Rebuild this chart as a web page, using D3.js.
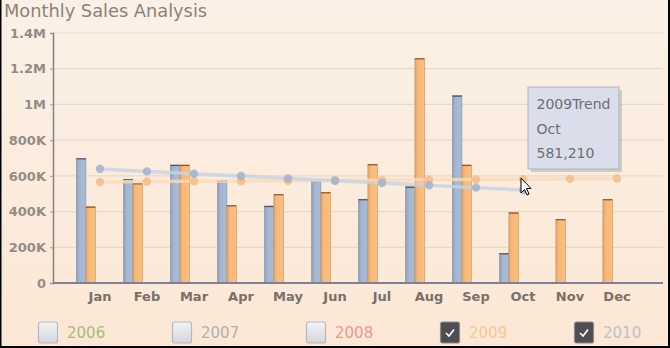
<!DOCTYPE html>
<html><head><meta charset="utf-8">
<script src="https://cdn.jsdelivr.net/npm/d3@7/dist/d3.min.js"></script>
<style>html,body{margin:0;padding:0;background:#fbeee0;}svg{display:block;}</style>
</head><body>
<script>
const months = ["Jan","Feb","Mar","Apr","May","Jun","Jul","Aug","Sep","Oct","Nov","Dec"];
const sales2010 = [698000, 581000, 661000, 573000, 431000, 571000, 469000, 539000, 1049000, 166000, null, null];
const sales2009 = [427000, 558000, 661000, 435000, 497000, 508000, 665000, 1258000, 661000, 394000, 357000, 469000];
const trend2009 = [566000, 568000, 570000, 571000, 573000, 575000, 576000, 578000, 580000, 581210, 583000, 585000];
const trend2010 = [638000, 625000, 612000, 599000, 586000, 573000, 560000, 547000, 534000, 521000, null, null];
const yTicks = [0, 200000, 400000, 600000, 800000, 1000000, 1200000, 1400000];
const legendYears = ["2006","2007","2008","2009","2010"];
const legendChecked = [false,false,false,true,true];
const legendColors = ["#a9b97c","#b3b0aa","#f0968f","#f7c697","#b9c1cd"];

const W = 670, H = 348;
const FONT = "DejaVu Sans, Verdana, sans-serif";
const svg = d3.select("body").append("svg").attr("width", W).attr("height", H);
const defs = svg.append("defs");

const bg = defs.append("linearGradient").attr("id","bg").attr("x1",0).attr("y1",0).attr("x2",0).attr("y2",1);
bg.append("stop").attr("offset","0%").attr("stop-color","#faf1e6");
bg.append("stop").attr("offset","100%").attr("stop-color","#fce7d5");
svg.append("rect").attr("width",W).attr("height",H).attr("fill","url(#bg)");

function barGrad(id, c1, c2, c3){
  const g = defs.append("linearGradient").attr("id",id).attr("x1",0).attr("y1",0).attr("x2",1).attr("y2",0);
  g.append("stop").attr("offset","0%").attr("stop-color",c1);
  g.append("stop").attr("offset","30%").attr("stop-color",c2);
  g.append("stop").attr("offset","100%").attr("stop-color",c3);
}
barGrad("gBlue","#8b9ab3","#a3b6d2","#a9bcd6");
barGrad("gOrange","#e2a56a","#f8b878","#fbbf80");

const x = d3.scaleBand().domain(months).range([76.5, 640.5]);
const slot = d3.scaleBand().domain(["2010","2009","s3","s4","s5"]).range([0, x.bandwidth()]);
const y = d3.scaleLinear().domain([0, 1400000]).range([283, 33]);
const fmt = v => v === 0 ? "0" : v >= 1000000 ? (v/1000000) + "M" : (v/1000) + "K";

// gridlines
svg.append("g").selectAll("line").data(yTicks.filter(d=>d>0)).join("line")
  .attr("x1",53).attr("x2",663).attr("y1",d=>y(d)).attr("y2",d=>y(d))
  .attr("stroke","#e6d9cb").attr("stroke-width",1.2);

// y axis
const yAxis = svg.append("g").attr("transform","translate(53,0)")
  .call(d3.axisLeft(y).tickValues(yTicks).tickFormat(fmt).tickSize(3).tickPadding(4));
yAxis.select(".domain").attr("stroke","#7d8194").attr("stroke-width",1.5);
yAxis.selectAll(".tick line").attr("stroke","#9a9aa6");
yAxis.selectAll("text").attr("font-family",FONT).attr("font-size",13)
  .attr("font-weight","bold").attr("fill","#958b82");

// bars
const bars = svg.append("g");
const d10 = months.map((m,i)=>({m, v:sales2010[i]})).filter(d=>d.v!=null);
const d09 = months.map((m,i)=>({m, v:sales2009[i]}));
bars.selectAll("rect.b10").data(d10).join("rect")
  .attr("x",d=>x(d.m)+slot("2010")).attr("width",slot.bandwidth())
  .attr("y",d=>y(d.v)).attr("height",d=>y(0)-y(d.v))
  .attr("fill","url(#gBlue)").attr("stroke","#8290a8").attr("stroke-width",0.6);
bars.selectAll("line.t10").data(d10).join("line")
  .attr("x1",d=>x(d.m)+slot("2010")).attr("x2",d=>x(d.m)+slot("2010")+slot.bandwidth())
  .attr("y1",d=>y(d.v)+0.5).attr("y2",d=>y(d.v)+0.5).attr("stroke","#4f5566").attr("stroke-width",1.2);
bars.selectAll("rect.b09").data(d09).join("rect")
  .attr("x",d=>x(d.m)+slot("2009")).attr("width",slot.bandwidth())
  .attr("y",d=>y(d.v)).attr("height",d=>y(0)-y(d.v))
  .attr("fill","url(#gOrange)").attr("stroke","#c98a50").attr("stroke-width",0.6);
bars.selectAll("line.t09").data(d09).join("line")
  .attr("x1",d=>x(d.m)+slot("2009")).attr("x2",d=>x(d.m)+slot("2009")+slot.bandwidth())
  .attr("y1",d=>y(d.v)+0.5).attr("y2",d=>y(d.v)+0.5).attr("stroke","#8a5a35").attr("stroke-width",1.2);

// trend lines
const cx = m => x(m) + x.bandwidth()/2;
function trend(vals, lineColor, dotColor){
  const pts = months.map((m,i)=>({m, v:vals[i]})).filter(d=>d.v!=null);
  svg.append("path").datum(pts)
    .attr("d", d3.line().x(d=>cx(d.m)).y(d=>y(d.v)))
    .attr("fill","none").attr("stroke",lineColor).attr("stroke-width",3.5).attr("opacity",0.8);
  svg.append("g").selectAll("circle").data(pts).join("circle")
    .attr("cx",d=>cx(d.m)).attr("cy",d=>y(d.v)).attr("r",4.2)
    .attr("fill",dotColor).attr("opacity",0.85);
}
trend(trend2009, "#f9dbb8", "#f2bd87");
trend(trend2010, "#c9d2e1", "#a3b2cc");

// x axis
const xAxis = svg.append("g").attr("transform","translate(0,283)")
  .call(d3.axisBottom(x).tickSize(0).tickPadding(9));
xAxis.select(".domain").attr("d","M53,0H663").attr("stroke","#7d8194").attr("stroke-width",2);
xAxis.selectAll("text").attr("font-family",FONT).attr("font-size",13)
  .attr("font-weight","bold").attr("fill","#7a7068");

// title
svg.append("text").attr("x",4).attr("y",17).text("Monthly Sales Analysis")
  .attr("font-family",FONT).attr("font-size",17.8).attr("fill","#8a837d");

// legend
const lg = svg.append("g").selectAll("g").data(legendYears).join("g")
  .attr("transform",(d,i)=>`translate(${38.5 + i*134},322)`);
const cbUn = defs.append("linearGradient").attr("id","cbUn").attr("x1",0).attr("y1",0).attr("x2",0).attr("y2",1);
cbUn.append("stop").attr("offset","0%").attr("stop-color","#f2f3f6");
cbUn.append("stop").attr("offset","100%").attr("stop-color","#d4d6dc");
lg.append("rect").attr("width",19).attr("height",21).attr("rx",2)
  .attr("fill",(d,i)=>legendChecked[i] ? "#4e4e52" : "url(#cbUn)")
  .attr("stroke",(d,i)=>legendChecked[i] ? "#8a8a8a" : "#b8b8bc").attr("stroke-width",1.2);
lg.filter((d,i)=>legendChecked[i]).append("path")
  .attr("d","M5.5,11 L8.5,14 L13.5,7.5").attr("fill","none").attr("stroke","#ffffff").attr("stroke-width",1.6);
lg.append("text").attr("x",28.5).attr("y",15.5).text(d=>d)
  .attr("font-family",FONT).attr("font-size",15)
  .attr("fill",(d,i)=>legendColors[i]);

// tooltip
const tipIdx = months.indexOf("Oct");
const tip = svg.append("g").attr("transform","translate(528,87)");
tip.append("rect").attr("x",3).attr("y",3).attr("width",91).attr("height",82).attr("fill","#b9b4ae").attr("opacity",0.6);
tip.append("rect").attr("width",91).attr("height",82).attr("fill","#d9deea").attr("stroke","#aab4c9").attr("stroke-width",1);
tip.selectAll("text").data(["2009Trend", months[tipIdx], d3.format(",")(trend2009[tipIdx])]).join("text")
  .attr("x",8.5).attr("y",(d,i)=>22 + i*24.5).text(d=>d)
  .attr("font-family",FONT).attr("font-size",14).attr("fill","#6c6e74");

// mouse cursor
svg.append("path").attr("transform","translate(521,178)")
  .attr("d","M0,0 L0,15 L3.5,11.5 L6,17 L8,16 L5.5,10.5 L10,10.5 Z")
  .attr("fill","#ffffff").attr("stroke","#000000").attr("stroke-width",1);

// border
svg.append("path").attr("d",`M0.5,0 V${H-1} H${W-1} V0`).attr("fill","none").attr("stroke","#000").attr("stroke-width",2);
</script>
</body></html>
